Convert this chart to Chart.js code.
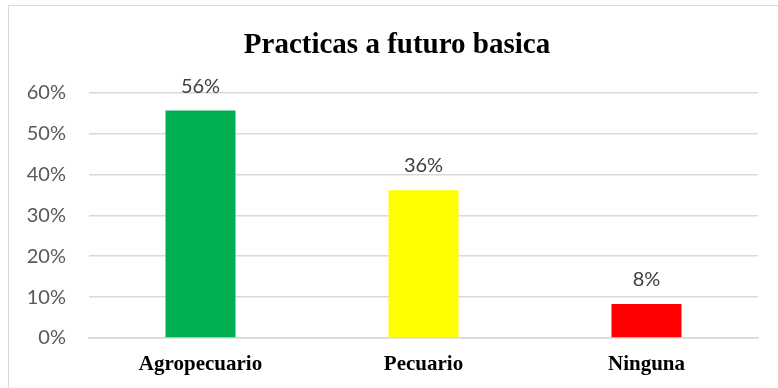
<!DOCTYPE html>
<html>
<head>
<meta charset="utf-8">
<script src="https://cdn.jsdelivr.net/npm/chart.js@4/dist/chart.umd.min.js"></script>
<style>
  html, body { margin: 0; padding: 0; background: #fff; overflow: hidden; }
  #wrap { position: relative; width: 778px; height: 388px; }
  #frame { position: absolute; left: 8px; top: 5px; width: 820px; height: 420px;
           border: 1.5px solid #d9d9d9; box-sizing: border-box; }
  #fig { position: absolute; left: 20px; top: -20px; font: bold 17px "Liberation Serif", serif; color: #000; }
  #c { position: absolute; left: 0; top: 0; }
</style>
</head>
<body>
<div id="wrap">
  <div id="fig">Figura</div>
  <div id="frame"></div>
  <canvas id="c" width="778" height="388"></canvas>
</div>
<script>
// Respuestas: prácticas a futuro (proporción de encuestados)
const categories = ['Agropecuario', 'Pecuario', 'Ninguna'];
const shares = [0.556, 0.361, 0.083];
const barColors = ['#00b050', '#ffff00', '#ff0000'];
const yTicks = [0, 0.1, 0.2, 0.3, 0.4, 0.5, 0.6];
const chartTitle = 'Practicas a futuro basica';

const pct = v => Math.round(v * 100) + '%';

// Title centred on the framed box, plus percentage labels above each bar
const annotations = {
  id: 'annotations',
  afterDraw(chart) {
    const ctx = chart.ctx;
    ctx.save();
    ctx.font = 'bold 29px "Liberation Serif", "Times New Roman", serif';
    ctx.fillStyle = '#000';
    ctx.textAlign = 'center';
    ctx.textBaseline = 'alphabetic';
    ctx.fillText(chartTitle, 397, 53);

    const meta = chart.getDatasetMeta(0);
    ctx.font = '20px Lato, "Open Sans", sans-serif';
    ctx.fillStyle = '#404040';
    meta.data.forEach((bar, i) => {
      ctx.fillText(pct(shares[i]), bar.x, bar.y - 18);
    });
    ctx.restore();
  }
};

new Chart(document.getElementById('c'), {
  type: 'bar',
  data: {
    labels: categories,
    datasets: [{
      data: shares,
      backgroundColor: barColors,
      borderWidth: 0,
      barPercentage: 0.314,
      categoryPercentage: 1
    }]
  },
  options: {
    responsive: false,
    animation: false,
    devicePixelRatio: 1,
    layout: { padding: { left: 0, right: 20, top: 92.5, bottom: 0 } },
    plugins: {
      legend: { display: false },
      tooltip: { enabled: false },
      title: { display: false }
    },
    scales: {
      x: {
        grid: { display: false, drawTicks: false },
        border: { display: true, color: '#d9d9d9', width: 1.5 },
        ticks: {
          color: '#000',
          padding: 14,
          font: { family: '"Liberation Serif", "Times New Roman", serif', size: 21, weight: 'bold' }
        },
        afterFit(scale) { scale.height = 388 - 338; }
      },
      y: {
        min: 0,
        max: 0.6,
        afterBuildTicks(scale) { scale.ticks = yTicks.map(v => ({ value: v })); },
        grid: { color: '#d9d9d9', lineWidth: 1.5, drawTicks: false },
        border: { display: false },
        ticks: {
          color: '#595959',
          padding: 23,
          font: { family: 'Lato, "Open Sans", sans-serif', size: 20 },
          callback: v => pct(v)
        },
        afterFit(scale) { scale.width = 89; }
      }
    }
  },
  plugins: [annotations]
});
</script>
</body>
</html>
